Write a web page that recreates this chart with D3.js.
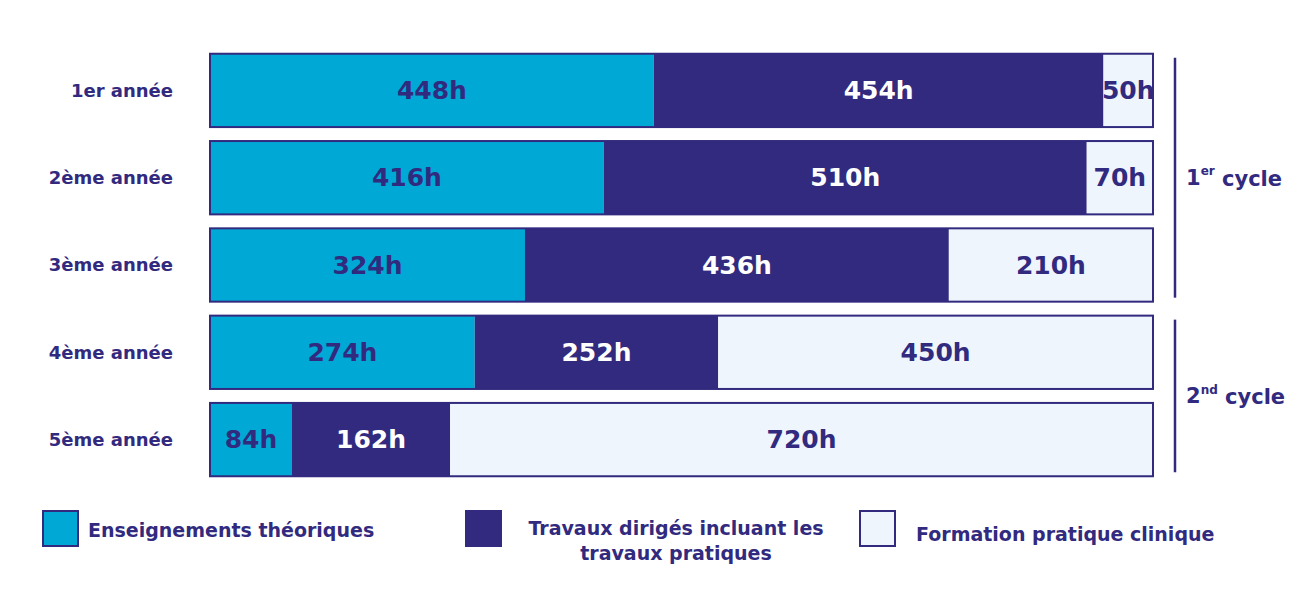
<!DOCTYPE html>
<html><head><meta charset="utf-8">
<script src="https://cdn.jsdelivr.net/npm/d3@7"></script>
<style>body{margin:0;background:#fff}text{font-family:"DejaVu Sans",sans-serif;font-weight:700}</style>
</head><body><svg></svg>
<script>
let years = ['1er année', '2ème année', '3ème année', '4ème  année', '5ème année']
let theory = [448, 416, 324, 274, 84]
let tutorials = [454, 510, 436, 252, 162]
let clinical = [50, 70, 210, 450, 720]
let seriesNames = ['Enseignements théoriques', 'Travaux dirigés incluant les travaux pratiques', 'Formation pratique clinique']
let colors = ['#00a8d6', '#312a7e', '#eef5fc']
let textColors = ['#312a7e', '#ffffff', '#312a7e']
let navy = '#312a7e'

let width = 1300, height = 600
let svg = d3.select('svg').attr('width', width).attr('height', height)

let rows = years.map((y, i) => ({year: y, vals: [theory[i], tutorials[i], clinical[i]]}))

let yScale = d3.scaleBand().domain(years).range([52, 478]).paddingInner(0.16).paddingOuter(0.02)
let xScale = d3.scaleLinear().domain([0, 1]).range([210, 1153])

rows.forEach(r => {
    let total = d3.sum(r.vals)
    let acc = 0
    let g = svg.append('g')
    r.vals.forEach((v, k) => {
        let x0 = xScale(acc / total), x1 = xScale((acc + v) / total)
        acc += v
        g.append('rect').attr('x', x0).attr('y', yScale(r.year)).attr('width', x1 - x0)
            .attr('height', yScale.bandwidth()).attr('fill', colors[k])
        g.append('text').attr('x', (x0 + x1) / 2).attr('y', yScale(r.year) + yScale.bandwidth() / 2)
            .attr('dy', '0.35em').attr('text-anchor', 'middle').attr('font-size', 25)
            .attr('fill', textColors[k]).text(v + 'h')
    })
    g.append('rect').attr('x', xScale(0)).attr('y', yScale(r.year)).attr('width', xScale(1) - xScale(0))
        .attr('height', yScale.bandwidth()).attr('fill', 'none').attr('stroke', navy).attr('stroke-width', 2)
    svg.append('text').attr('x', 173).attr('y', yScale(r.year) + yScale.bandwidth() / 2)
        .attr('dy', '0.35em').attr('text-anchor', 'end').attr('font-size', 18).attr('fill', navy).text(r.year)
})

// cycle brackets
let cycles = [{sup: 'er', from: 0, to: 2, pre: '1'}, {sup: 'nd', from: 3, to: 4, pre: '2'}]
cycles.forEach(c => {
    let y0 = yScale(years[c.from]) + 4, y1 = yScale(years[c.to]) + yScale.bandwidth() - 4
    svg.append('line').attr('x1', 1175).attr('x2', 1175).attr('y1', y0).attr('y2', y1)
        .attr('stroke', navy).attr('stroke-width', 2.5)
    let t = svg.append('text').attr('x', 1186).attr('y', (y0 + y1) / 2).attr('dy', '0.35em')
        .attr('font-size', 21).attr('fill', navy)
    t.append('tspan').text(c.pre)
    t.append('tspan').attr('font-size', 12).attr('dy', '-0.8em').text(c.sup)
    t.append('tspan').attr('dy', '0.5em').text(' cycle')
})

// legend
let legend = [
    {x: 43, lines: [seriesNames[0]], tx: 88, ty: 530},
    {x: 466, lines: ['Travaux dirigés incluant les', 'travaux pratiques'], tx: 511, ty: 528},
    {x: 860, lines: [seriesNames[2]], tx: 916, ty: 534}
]
legend.forEach((l, k) => {
    svg.append('rect').attr('x', l.x).attr('y', 511).attr('width', 35).attr('height', 35)
        .attr('fill', colors[k]).attr('stroke', navy).attr('stroke-width', 2)
    let t = svg.append('text').attr('font-size', 19).attr('fill', navy)
    if (l.lines.length === 1) {
        t.attr('x', l.tx).attr('y', l.ty).attr('dy', '0.35em').text(l.lines[0])
    } else {
        t.attr('x', 676).attr('text-anchor', 'middle')
        t.append('tspan').attr('x', 676).attr('y', l.ty).attr('dy', '0.35em').text(l.lines[0])
        t.append('tspan').attr('x', 676).attr('y', l.ty + 25).attr('dy', '0.35em').text(l.lines[1])
    }
})
</script></body></html>
